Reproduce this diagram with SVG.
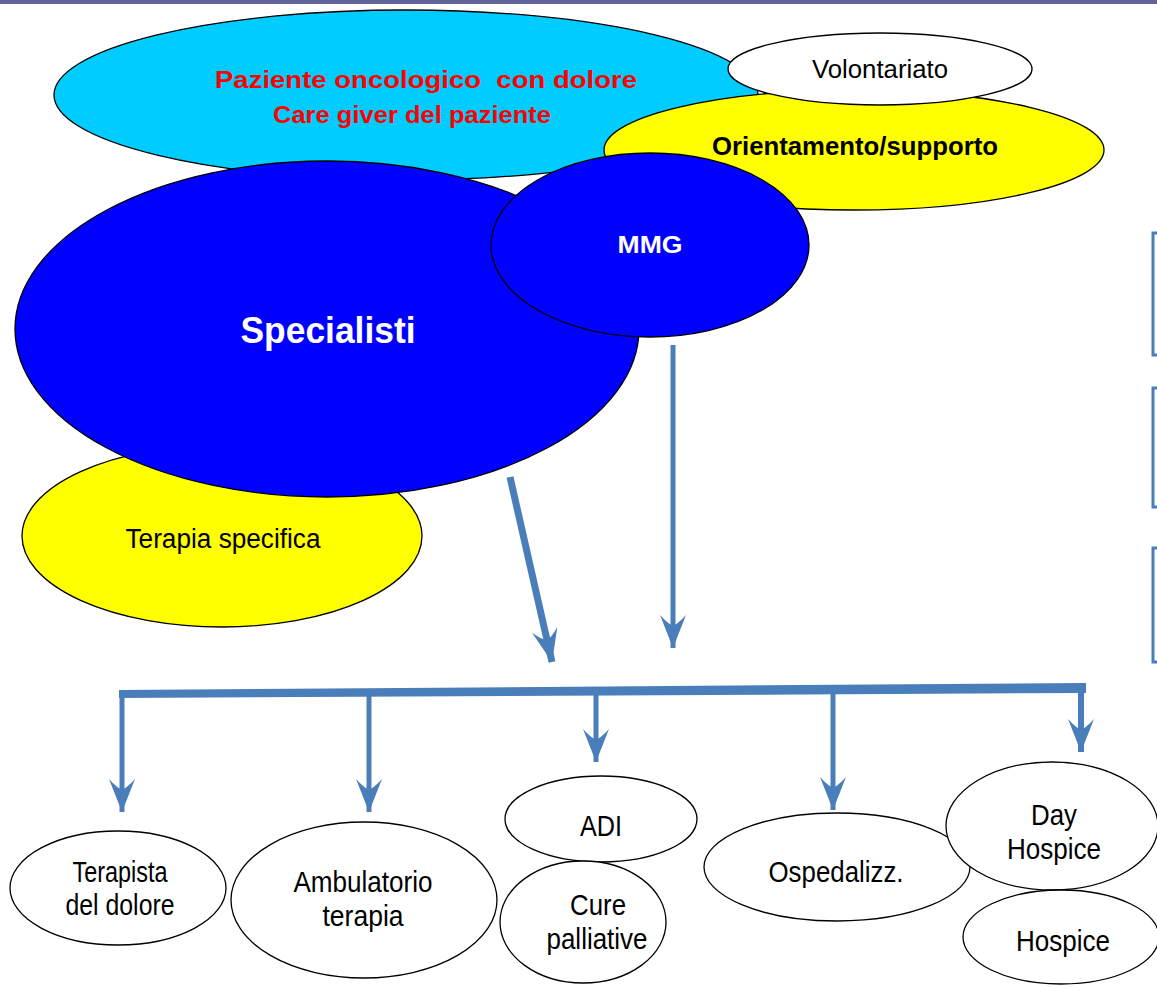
<svg xmlns="http://www.w3.org/2000/svg" width="1157" height="987" viewBox="0 0 1157 987">
<style>
.e{stroke:#000;stroke-width:1.3}
.w{fill:#fff}
.t{font-family:"Liberation Sans",Arial,sans-serif;font-size:29px;fill:#000;text-anchor:middle}
.b{font-weight:bold}
.r{fill:#FF0000;font-size:24px}
.c{stroke:#4A7EBB;fill:none;stroke-linecap:butt}
.br{stroke:#4A7EBB;fill:none;stroke-width:3}
</style>
<defs>
<marker id="ah" markerUnits="userSpaceOnUse" markerWidth="40" markerHeight="30" viewBox="-36 -15 38 30" refX="0" refY="0" orient="auto">
<path d="M0,0 L-33,-13 Q-23,-4 -23,0 Q-23,4 -33,13 Z" fill="#4A7EBB"/>
</marker>
</defs>
<rect x="0" y="0" width="1157" height="4" fill="#62659A"/>
<g id="paziente"><ellipse class="e" cx="406" cy="95" rx="352" ry="85" fill="#00CCFF"/>
<text class="t b r" x="426" y="88" xml:space="preserve" textLength="422" lengthAdjust="spacingAndGlyphs">Paziente oncologico  con dolore</text>
<text class="t b r" x="412" y="123" textLength="278" lengthAdjust="spacingAndGlyphs">Care giver del paziente</text></g>
<g id="orientamento"><ellipse class="e" cx="854" cy="150" rx="250" ry="60" fill="#FFFF00"/>
<text class="t b" x="855" y="155" style="font-size:25px" textLength="286" lengthAdjust="spacingAndGlyphs">Orientamento/supporto</text></g>
<g id="volontariato"><ellipse class="e w" cx="880" cy="69" rx="152" ry="36"/>
<text class="t" x="880" y="78" style="font-size:26px" textLength="136" lengthAdjust="spacingAndGlyphs">Volontariato</text></g>
<g id="terapia-specifica"><ellipse class="e" cx="222" cy="536" rx="200" ry="91" fill="#FFFF00"/>
<text class="t" x="223" y="548" style="font-size:27px" textLength="195" lengthAdjust="spacingAndGlyphs">Terapia specifica</text></g>
<g id="specialisti"><ellipse class="e" cx="327" cy="329" rx="312" ry="168" fill="#0000FF"/>
<text class="t b" x="328" y="343" style="font-size:37px;fill:#fff" textLength="175" lengthAdjust="spacingAndGlyphs">Specialisti</text></g>
<g id="mmg"><ellipse class="e" cx="650" cy="245" rx="159" ry="92" fill="#0000FF"/>
<text class="t b" x="650" y="253" style="font-size:23px;fill:#fff" textLength="65" lengthAdjust="spacingAndGlyphs">MMG</text></g>
<g id="connectors">
<line class="c" x1="510" y1="477" x2="552" y2="662" stroke-width="7" marker-end="url(#ah)"/>
<line class="c" x1="673" y1="345" x2="673" y2="648" stroke-width="5" marker-end="url(#ah)"/>
<polygon points="119,690 1086,683 1086,693 119,698" fill="#4A7EBB"/>
<line class="c" x1="122" y1="694" x2="122" y2="812" stroke-width="5" marker-end="url(#ah)"/>
<line class="c" x1="369" y1="694" x2="369" y2="812" stroke-width="5" marker-end="url(#ah)"/>
<line class="c" x1="596" y1="692" x2="596" y2="762" stroke-width="5" marker-end="url(#ah)"/>
<line class="c" x1="833" y1="690" x2="833" y2="810" stroke-width="5" marker-end="url(#ah)"/>
<line class="c" x1="1081" y1="688" x2="1081" y2="752" stroke-width="6" marker-end="url(#ah)"/>
<path class="br" d="M1158,233 H1153 V355 H1158"/>
<path class="br" d="M1158,388 H1153 V507 H1158"/>
<path class="br" d="M1158,548 H1153 V662 H1158"/>
</g>
<g id="terapista"><ellipse class="e w" cx="118" cy="888" rx="108" ry="57"/>
<text class="t" x="120" y="882" textLength="95" lengthAdjust="spacingAndGlyphs">Terapista</text>
<text class="t" x="120" y="915" textLength="109" lengthAdjust="spacingAndGlyphs">del dolore</text></g>
<g id="ambulatorio"><ellipse class="e w" cx="364" cy="900" rx="133" ry="78"/>
<text class="t" x="363" y="892" textLength="139" lengthAdjust="spacingAndGlyphs">Ambulatorio</text>
<text class="t" x="363" y="926" textLength="81" lengthAdjust="spacingAndGlyphs">terapia</text></g>
<g id="adi"><ellipse class="e w" cx="601" cy="819" rx="96" ry="43"/>
<text class="t" x="601" y="836" textLength="42" lengthAdjust="spacingAndGlyphs">ADI</text></g>
<g id="cure"><ellipse class="e w" cx="583" cy="922" rx="83" ry="61"/>
<text class="t" x="598" y="915" textLength="56" lengthAdjust="spacingAndGlyphs">Cure</text>
<text class="t" x="597" y="949" textLength="101" lengthAdjust="spacingAndGlyphs">palliative</text></g>
<g id="ospedalizz"><ellipse class="e w" cx="837" cy="867" rx="133" ry="54"/>
<text class="t" x="836" y="882" textLength="135" lengthAdjust="spacingAndGlyphs">Ospedalizz.</text></g>
<g id="dayhospice"><ellipse class="e w" cx="1052" cy="826" rx="106" ry="64"/>
<text class="t" x="1054" y="825" textLength="46" lengthAdjust="spacingAndGlyphs">Day</text>
<text class="t" x="1054" y="859" textLength="94" lengthAdjust="spacingAndGlyphs">Hospice</text></g>
<g id="hospice"><ellipse class="e w" cx="1061" cy="937" rx="98" ry="47"/>
<text class="t" x="1063" y="951" textLength="94" lengthAdjust="spacingAndGlyphs">Hospice</text></g>
</svg>
